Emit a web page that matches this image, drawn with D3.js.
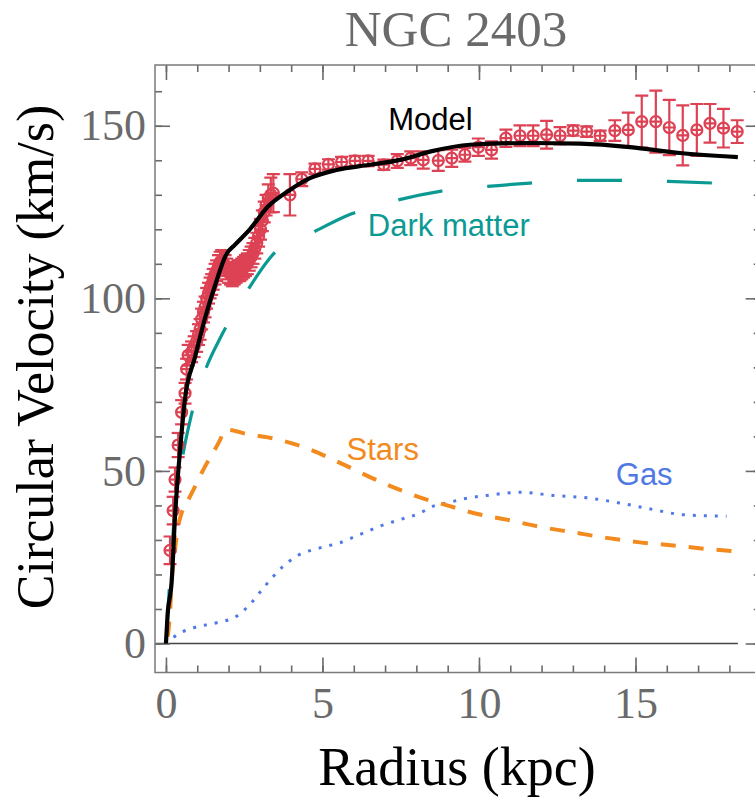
<!DOCTYPE html>
<html>
<head>
<meta charset="utf-8">
<script src="https://cdn.jsdelivr.net/npm/d3@7"></script>
<style>
body { margin: 0; background: #fff; }
svg { display: block; }
</style>
</head>
<body>
<svg width="755" height="803"></svg>
<script>
// observed rotation curve
var obsR = [0.13, 0.23, 0.29, 0.39, 0.50, 0.61, 0.66, 0.71, 0.82, 0.90, 0.98, 1.04, 1.09, 1.14, 1.20, 1.25, 1.30, 1.36, 1.41, 1.46,
            1.51, 1.57, 1.62, 1.68, 1.73, 1.78, 1.83, 1.89, 1.94, 2.00, 2.06, 2.12, 2.18, 2.24, 2.30, 2.36, 2.42, 2.48, 2.54, 2.60,
            2.66, 2.72, 2.78, 2.84, 2.90, 2.96, 3.02, 3.08, 3.14, 3.20, 3.27, 3.35, 3.43, 3.96, 4.34, 4.76, 5.19, 5.61, 6.04, 6.46,
            6.96, 7.39, 7.82, 8.22, 8.70, 9.13, 9.55, 9.98, 10.40, 10.86, 11.31, 11.73, 12.16, 12.59, 13.01, 13.44, 13.87, 14.34,
            14.77, 15.20, 15.65, 16.08, 16.51, 16.96, 17.38, 17.81, 18.25];
var obsV = [27, 38.5, 47.5, 57.5, 67, 72.5, 79.5, 83.5, 84.5, 86, 87.5, 89.5, 91, 94, 96, 97.5, 100, 101.5, 103, 104,
            105.5, 107, 108, 109.5, 110.5, 111, 110.5, 109.5, 108.5, 107.5, 107, 106.5, 107, 107.5, 108, 108, 108.5, 109, 109.5, 110,
            111, 112, 113, 114.5, 116, 118, 120, 122.5, 125, 127, 129, 130, 130.5, 130, 134.5, 137.5, 138.8, 139.5, 139.8, 139.8,
            138.7, 139.8, 140.6, 140.1, 139.9, 140.6, 141.6, 143.8, 143.0, 146.4, 147.1, 147.1, 147.4, 147.1, 148.6, 148.3, 147.1, 148.6,
            148.8, 151.2, 151.2, 149.5, 147.2, 148.8, 150.7, 149.3, 148.3];
var obsErr = [4, 4, 3.5, 3.5, 3.5, 3, 3, 3, 3, 3, 3, 3, 3, 3, 3, 3, 3, 3, 3, 3,
              3, 3, 3, 3, 3, 3, 3, 3, 3, 3, 3, 3, 3, 3, 3, 3, 3, 3, 3, 3,
              3, 3, 3, 3, 3, 3, 3, 3, 3, 3, 4, 5, 5.5, 6, 2, 1.5, 1.5, 1.5, 1.5, 1.5,
              1.5, 2, 2, 2.5, 3, 2.5, 2, 2.5, 2.5, 2.5, 3, 3, 4, 2.5, 1.5, 1.5, 1.5, 3,
              5, 7.5, 9, 8, 8.7, 7.5, 5.6, 5.6, 3.3];

// model components
var modelR = [0, 0.05, 0.18, 0.29, 0.45, 0.61, 0.93, 1.24, 1.56, 1.93, 2.2, 2.68, 3.26, 3.96, 4.6, 5.45, 6.52, 7.48, 8.43, 9.71, 11.63, 13.23, 14.83, 16.42, 18.27];
var modelV = [0, 8, 17.6, 36.9, 56, 71, 83, 94, 103.5, 112.8, 115.5, 120, 126.6, 131.4, 134.8, 137.2, 138.7, 140.1, 142.5, 144.5, 145, 144.8, 143.8, 142.1, 140.9];

var darkR = [0, 0.1, 0.24, 0.5, 0.77, 1.2, 1.79, 2.52, 3.48, 4.65, 5.93, 7.37, 8.75, 10.24, 11.63, 13.12, 14.55, 16.05, 17.46];
var darkV = [0, 15, 33.6, 52.3, 64.6, 77.8, 89.5, 101, 113.3, 118.9, 124.5, 128.4, 131, 132.4, 133.4, 134.2, 134.2, 133.9, 133.4];

var starR = [0.0, 0.07, 0.13, 0.18, 0.29, 0.39, 0.5, 0.77, 1.25, 1.73, 1.89, 2.68, 3.32, 4.6, 5.45, 6.94, 8.33, 9.07, 9.82, 10.88, 11.95, 13.01, 14.08, 15.14, 16.21, 17.27, 18.23];
var starV = [0, 3, 9, 17.6, 27.2, 34, 37.8, 42.6, 51.3, 59, 62, 60.5, 59.6, 56.2, 52.8, 46.5, 41.7, 39.8, 37.8, 35.9, 33.8, 32.2, 30.6, 29.3, 28.4, 27.4, 26.7];

var gasR = [0.07, 0.29, 0.87, 1.62, 2.26, 2.68, 3.16, 3.75, 4.17, 4.92, 5.56, 6.2, 6.84, 7.48, 8.12, 8.54, 8.97, 9.5, 10.25, 11.31, 12.37, 13.44, 14.5, 15.57, 16.53, 17.91];
var gasV = [0.2, 2.1, 4.5, 6, 7.9, 11.3, 16.6, 22.4, 25.3, 27.7, 29.2, 31.6, 34, 35.9, 37.8, 39.8, 40.7, 41.9, 42.9, 43.8, 42.9, 42.2, 40.7, 38.8, 37.3, 36.9];

var xMajor = [0, 5, 10, 15];
var xMinor = d3.range(0, 20, 1);
var yMajor = [0, 50, 100, 150];
var yMinor = d3.range(0, 170, 10);

var labels = [
    { text: "Model", r: 7.1, v: 148.8, color: "#000000" },
    { text: "Dark matter", r: 6.45, v: 118.1, color: "#0a9a93" },
    { text: "Stars", r: 5.77, v: 53.2, color: "#f28a1e" },
    { text: "Gas", r: 14.37, v: 46.0, color: "#5079e6" }
];

var red = "#dd4254";
var frame = { left: 155, right: 760.7, top: 65, bottom: 672.5 };

var svg = d3.select("svg");
var x = d3.scaleLinear().domain([-0.35, 19.0]).range([frame.left, frame.right]);
var y = d3.scaleLinear().domain([-8.4, 167.6]).range([frame.bottom, frame.top]);

svg.append("defs").append("clipPath").attr("id", "clip")
    .append("rect")
    .attr("x", frame.left).attr("y", frame.top)
    .attr("width", frame.right - frame.left).attr("height", frame.bottom - frame.top);

// zero axis line
svg.append("line")
    .attr("x1", frame.left).attr("x2", x(18.27))
    .attr("y1", y(0)).attr("y2", y(0))
    .attr("stroke", "#444").attr("stroke-width", 1.5);

function styleAxis(g) {
    g.select(".domain").remove();
    g.selectAll(".tick line").attr("stroke", "#6a6a6a").attr("stroke-width", 1.6);
    g.selectAll(".tick text")
        .attr("fill", "#6a6a6a")
        .style("font-family", "'Liberation Serif', 'Times New Roman', serif")
        .style("font-size", "44px");
}

// minor ticks on all four sides
svg.append("g").attr("transform", "translate(0," + frame.bottom + ")")
    .call(d3.axisBottom(x).tickValues(xMinor).tickSize(-7).tickFormat("")).call(styleAxis);
svg.append("g").attr("transform", "translate(0," + frame.top + ")")
    .call(d3.axisTop(x).tickValues(xMinor).tickSize(-7).tickFormat("")).call(styleAxis);
svg.append("g").attr("transform", "translate(" + frame.left + ",0)")
    .call(d3.axisLeft(y).tickValues(yMinor).tickSize(-7).tickFormat("")).call(styleAxis);
svg.append("g").attr("transform", "translate(" + frame.right + ",0)")
    .call(d3.axisRight(y).tickValues(yMinor).tickSize(-7).tickFormat("")).call(styleAxis);

// major ticks
svg.append("g").attr("transform", "translate(0," + frame.bottom + ")")
    .call(d3.axisBottom(x).tickValues(xMajor).tickSize(-15).tickPadding(14).tickFormat(d3.format("d"))).call(styleAxis);
svg.append("g").attr("transform", "translate(0," + frame.top + ")")
    .call(d3.axisTop(x).tickValues(xMajor).tickSize(-15).tickFormat("")).call(styleAxis);
svg.append("g").attr("transform", "translate(" + frame.left + ",0)")
    .call(d3.axisLeft(y).tickValues(yMajor).tickSize(-15).tickPadding(9).tickFormat(d3.format("d"))).call(styleAxis);
svg.append("g").attr("transform", "translate(" + frame.right + ",0)")
    .call(d3.axisRight(y).tickValues(yMajor).tickSize(-15).tickFormat("")).call(styleAxis);

// frame
svg.append("rect")
    .attr("x", frame.left).attr("y", frame.top)
    .attr("width", frame.right - frame.left).attr("height", frame.bottom - frame.top)
    .attr("fill", "none").attr("stroke", "#7a7a7a").attr("stroke-width", 1.5);

var plot = svg.append("g").attr("clip-path", "url(#clip)");

var line = d3.line().curve(d3.curveMonotoneX).x(d => x(d[0])).y(d => y(d[1]));

// shift a dash pattern so that a dash starts where the curve reaches radius r0
function dashOffset(path, r0, period) {
    var node = path.node(), total = node.getTotalLength(), target = x(r0);
    var lo = 0, hi = total;
    for (var k = 0; k < 40; k++) {
        var mid = (lo + hi) / 2;
        if (node.getPointAtLength(mid).x < target) lo = mid; else hi = mid;
    }
    return (period - (lo % period)) % period;
}

function dashed(rs, vs, color, w, dash, period, r0) {
    var p = plot.append("path").datum(d3.zip(rs, vs))
        .attr("d", line).attr("fill", "none")
        .attr("stroke", color).attr("stroke-width", w).attr("stroke-dasharray", dash);
    p.attr("stroke-dashoffset", dashOffset(p, r0, period));
    return p;
}

dashed(gasR, gasV, "#5079e6", 3, "3,8", 11, 11.26);
dashed(starR, starV, "#f28a1e", 4, "15,13", 28, 10.51);
dashed(darkR, darkV, "#0a9a93", 3.2, "45,45", 90, 10.26);

// observed points with error bars
var obs = obsR.map((r, i) => ({ r: r, v: obsV[i], e: obsErr[i] }));
var pts = plot.append("g").attr("stroke", red).attr("stroke-width", 2.2).attr("fill", "none")
    .selectAll("g").data(obs).enter().append("g");
pts.append("line")
    .attr("x1", d => x(d.r)).attr("x2", d => x(d.r))
    .attr("y1", d => y(d.v - d.e)).attr("y2", d => y(d.v + d.e));
pts.append("line")
    .attr("x1", d => x(d.r) - 6.5).attr("x2", d => x(d.r) + 6.5)
    .attr("y1", d => y(d.v - d.e)).attr("y2", d => y(d.v - d.e));
pts.append("line")
    .attr("x1", d => x(d.r) - 6.5).attr("x2", d => x(d.r) + 6.5)
    .attr("y1", d => y(d.v + d.e)).attr("y2", d => y(d.v + d.e));
pts.append("line")
    .attr("x1", d => x(d.r) - 5.5).attr("x2", d => x(d.r) + 5.5)
    .attr("y1", d => y(d.v)).attr("y2", d => y(d.v));
pts.append("circle")
    .attr("cx", d => x(d.r)).attr("cy", d => y(d.v)).attr("r", 5.5);

plot.append("path").datum(d3.zip(modelR, modelV))
    .attr("d", line).attr("fill", "none")
    .attr("stroke", "#000").attr("stroke-width", 4.2).attr("stroke-linejoin", "round");

// curve labels
svg.selectAll(".lab").data(labels).enter().append("text")
    .attr("class", "lab")
    .attr("x", d => x(d.r)).attr("y", d => y(d.v))
    .attr("fill", d => d.color)
    .style("font-family", "'Liberation Sans', Arial, sans-serif")
    .style("font-size", "31px")
    .text(d => d.text);

// title and axis titles
svg.append("text")
    .attr("x", 456).attr("y", 46)
    .attr("text-anchor", "middle").attr("fill", "#6a6a6a")
    .style("font-family", "'Liberation Serif', 'Times New Roman', serif")
    .style("font-size", "51px")
    .text("NGC 2403");

svg.append("text")
    .attr("x", 457).attr("y", 785)
    .attr("text-anchor", "middle").attr("fill", "#000")
    .style("font-family", "'Liberation Serif', 'Times New Roman', serif")
    .style("font-size", "54px")
    .text("Radius (kpc)");

svg.append("text")
    .attr("transform", "translate(53,357) rotate(-90)")
    .attr("text-anchor", "middle").attr("fill", "#000")
    .style("font-family", "'Liberation Serif', 'Times New Roman', serif")
    .style("font-size", "52px")
    .text("Circular Velocity (km/s)");
</script>
</body>
</html>
